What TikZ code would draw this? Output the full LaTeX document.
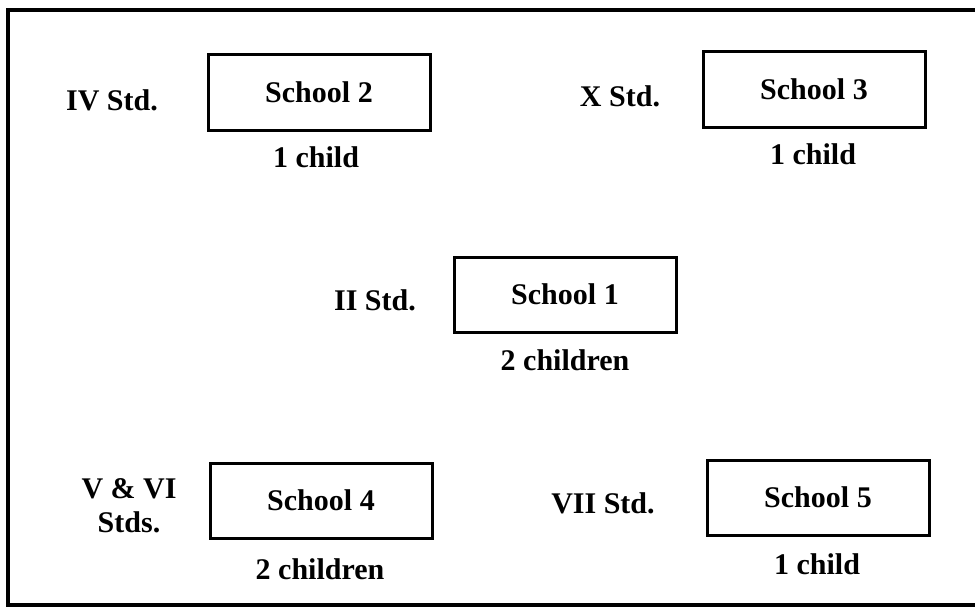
\documentclass[tikz,border=0pt]{standalone}
\usepackage{fontspec}
\setmainfont{Liberation Serif}
\begin{document}
\begin{tikzpicture}[x=1pt,y=-1pt,line width=3pt,
		font=\fontsize{30}{34}\selectfont\bfseries,
		school/.style={draw,minimum width=222pt,minimum height=75pt,inner sep=0pt}]
		\useasboundingbox (0,0) rectangle (975,610);
		\clip (0,0) rectangle (975,610);
		\draw [line width=3.5pt] (990,10) -- (8,10) -- (8,605) -- (990,605);
		\node [school] (s2) at (319,92.5) {School 2};
		\node (c2) at (316,157) {1 child};
		\node (l2) at (112,100) {IV Std.};
		\node [school] (s3) at (814,89.5) {School 3};
		\node (c3) at (813,154) {1 child};
		\node (l3) at (620,96) {X Std.};
		\node [school] (s1) at (565,294.5) {School 1};
		\node (c1) at (565,360) {2 children};
		\node (l1) at (375,300) {II Std.};
		\node [school] (s4) at (321,500.5) {School 4};
		\node (c4) at (320,569) {2 children};
		\node [align=center] (l4) at (129,506) {V \& VI\\Stds.};
		\node [school] (s5) at (818,497.5) {School 5};
		\node (c5) at (817,564) {1 child};
		\node (l5) at (603,503) {VII Std.};
\end{tikzpicture}
\end{document}
